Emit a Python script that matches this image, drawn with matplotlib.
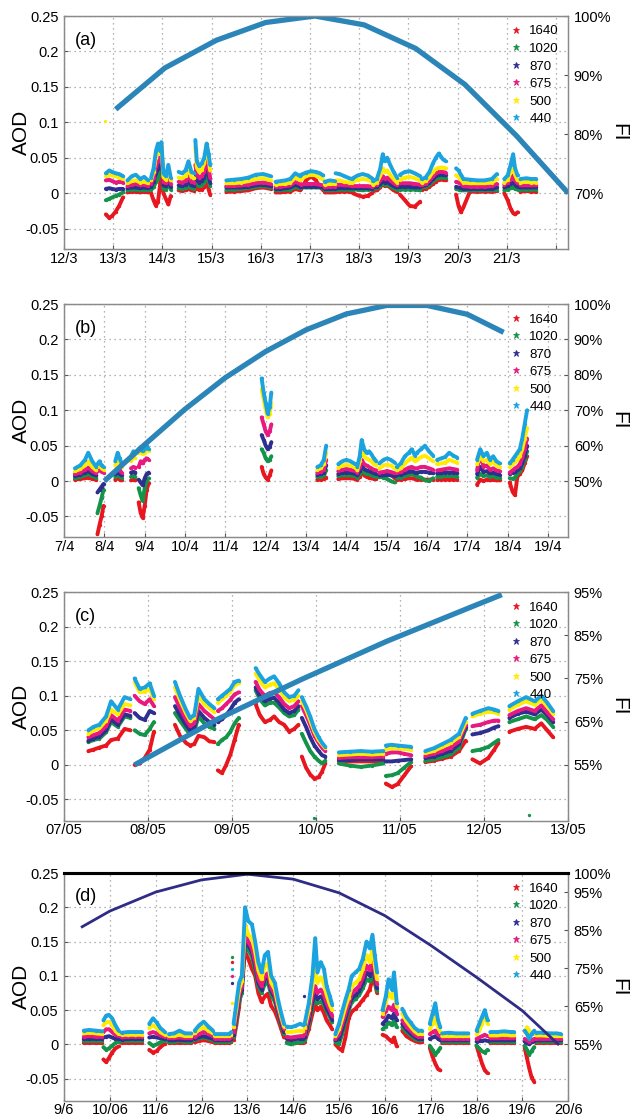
import numpy as np
import matplotlib
matplotlib.use('Agg')
import matplotlib.pyplot as plt
from matplotlib import font_manager
from matplotlib.lines import Line2D

nan = np.nan

# ---------------- wavelengths ----------------
bands = ['1640', '1020', '870', '675', '500', '440']
band_colors = ['#e8161e', '#14934a', '#2e2f8f', '#e8197f', '#ffec00', '#1aa3de']

# ---------------- (a) March ----------------
a_t = [[12.83],
       [12.85, 12.92, 12.98, 13.05, 13.12, 13.2],
       [13.29, 13.38, 13.46, 13.55, 13.63, 13.71],
       [13.77, 13.82, 13.87, 13.91, 13.95, 13.98, 14.02, 14.07, 14.12, 14.17],
       [14.33, 14.4, 14.47, 14.53, 14.59, 14.65],
       [14.67, 14.7, 14.75, 14.8, 14.85, 14.9, 14.94, 14.97],
       [15.3, 15.45, 15.6, 15.75, 15.9, 16.05, 16.2],
       [16.3, 16.4, 16.5, 16.6, 16.7, 16.8],
       [16.82, 16.92, 17.02, 17.12, 17.2, 17.27],
       [17.3, 17.4, 17.5],
       [17.52, 17.6, 17.7, 17.8, 17.85],
       [17.87, 17.97, 18.07, 18.17, 18.26],
       [18.28, 18.36, 18.43, 18.48, 18.52, 18.57, 18.63, 18.7, 18.77],
       [18.83, 18.93, 19.03, 19.13, 19.24],
       [19.27, 19.35, 19.43, 19.5, 19.56, 19.62, 19.7, 19.76],
       [19.97, 20.02, 20.07, 20.12, 20.25, 20.4, 20.55, 20.7, 20.8],
       [20.95, 21.02, 21.08, 21.13, 21.17, 21.22],
       [21.28, 21.4, 21.5, 21.6]]
a_1640 = [[nan],
          [-0.030, -0.035, -0.032, -0.026, -0.018, -0.006],
          [0.001, 0.002, 0.002, 0.001, 0.002, 0.001],
          [0.000, -0.010, -0.018, -0.012, 0.010, 0.045, 0.000, -0.008, -0.016, -0.004],
          [0.004, 0.003, 0.004, 0.006, 0.004, 0.003],
          [0.012, 0.006, 0.005, 0.005, 0.008, 0.015, 0.005, -0.002],
          [0.002, 0.002, 0.003, 0.004, 0.007, 0.008, 0.006],
          [0.001, 0.001, 0.002, 0.002, 0.006, 0.004],
          [0.006, 0.018, 0.024, 0.018, 0.009, 0.004],
          [0.001, 0.001, 0.001],
          [0.002, 0.002, 0.002, 0.002, 0.002],
          [0.000, -0.003, -0.005, -0.004, 0.000],
          [0.003, 0.004, 0.008, 0.015, 0.010, 0.011, 0.008, 0.004, 0.002],
          [-0.002, -0.010, -0.018, -0.019, -0.012],
          [0.005, 0.006, 0.009, 0.013, 0.016, 0.019, 0.019, 0.018],
          [-0.002, -0.018, -0.027, -0.020, 0.002, 0.002, 0.002, 0.002, 0.003],
          [0.000, -0.010, -0.022, -0.028, -0.030, -0.027],
          [0.002, 0.003, 0.002, 0.002]]
a_1020 = [[nan],
          [-0.010, -0.008, -0.006, -0.004, -0.002, 0.001],
          [0.004, 0.005, 0.005, 0.004, 0.005, 0.004],
          [0.005, 0.008, 0.016, 0.020, 0.030, 0.055, 0.006, 0.005, 0.014, 0.005],
          [0.007, 0.006, 0.007, 0.010, 0.007, 0.006],
          [0.022, 0.012, 0.010, 0.011, 0.015, 0.028, 0.018, 0.010],
          [0.005, 0.005, 0.006, 0.007, 0.009, 0.010, 0.008],
          [0.004, 0.004, 0.005, 0.005, 0.009, 0.007],
          [0.008, 0.008, 0.008, 0.008, 0.008, 0.007],
          [0.004, 0.004, 0.004],
          [0.005, 0.005, 0.005, 0.005, 0.005],
          [0.005, 0.005, 0.004, 0.005, 0.005],
          [0.006, 0.007, 0.010, 0.015, 0.012, 0.013, 0.010, 0.007, 0.005],
          [0.005, 0.005, 0.005, 0.005, 0.004],
          [0.008, 0.009, 0.012, 0.017, 0.020, 0.022, 0.022, 0.021],
          [0.006, 0.005, 0.004, 0.004, 0.004, 0.004, 0.004, 0.004, 0.005],
          [0.004, 0.005, 0.007, 0.008, 0.006, 0.005],
          [0.005, 0.005, 0.005, 0.005]]
a_870 = [[nan],
         [0.006, 0.007, 0.006, 0.005, 0.006, 0.006],
         [0.007, 0.008, 0.008, 0.007, 0.008, 0.007],
         [0.009, 0.016, 0.028, 0.034, 0.038, 0.060, 0.011, 0.010, 0.020, 0.009],
         [0.011, 0.010, 0.012, 0.016, 0.011, 0.010],
         [0.030, 0.018, 0.015, 0.017, 0.022, 0.038, 0.025, 0.015],
         [0.008, 0.008, 0.008, 0.009, 0.011, 0.012, 0.010],
         [0.006, 0.006, 0.007, 0.008, 0.012, 0.009],
         [0.009, 0.009, 0.009, 0.009, 0.009, 0.008],
         [0.006, 0.006, 0.006],
         [0.007, 0.007, 0.007, 0.007, 0.007],
         [0.007, 0.007, 0.007, 0.007, 0.006],
         [0.008, 0.009, 0.013, 0.018, 0.015, 0.016, 0.013, 0.010, 0.008],
         [0.009, 0.009, 0.009, 0.008, 0.008],
         [0.010, 0.011, 0.015, 0.020, 0.024, 0.026, 0.026, 0.025],
         [0.009, 0.008, 0.007, 0.006, 0.006, 0.006, 0.006, 0.006, 0.008],
         [0.008, 0.010, 0.013, 0.015, 0.012, 0.009],
         [0.008, 0.008, 0.008, 0.008]]
a_675 = [[nan],
         [0.018, 0.019, 0.017, 0.015, 0.016, 0.015],
         [0.010, 0.012, 0.013, 0.011, 0.012, 0.010],
         [0.013, 0.022, 0.038, 0.045, 0.045, 0.066, 0.016, 0.014, 0.026, 0.013],
         [0.016, 0.015, 0.017, 0.024, 0.016, 0.015],
         [0.040, 0.026, 0.022, 0.024, 0.030, 0.050, 0.035, 0.022],
         [0.010, 0.010, 0.011, 0.012, 0.014, 0.015, 0.013],
         [0.009, 0.009, 0.010, 0.011, 0.016, 0.013],
         [0.012, 0.013, 0.013, 0.013, 0.012, 0.011],
         [0.008, 0.009, 0.009],
         [0.012, 0.012, 0.011, 0.011, 0.010],
         [0.010, 0.010, 0.010, 0.010, 0.009],
         [0.010, 0.012, 0.018, 0.024, 0.020, 0.022, 0.018, 0.014, 0.011],
         [0.014, 0.014, 0.014, 0.013, 0.012],
         [0.012, 0.013, 0.018, 0.024, 0.028, 0.030, 0.030, 0.029],
         [0.016, 0.015, 0.013, 0.010, 0.009, 0.009, 0.009, 0.010, 0.013],
         [0.012, 0.015, 0.020, 0.025, 0.018, 0.014],
         [0.011, 0.011, 0.011, 0.011]]
a_500 = [[0.102],
         [0.024, 0.026, 0.025, 0.024, 0.022, 0.020],
         [0.014, 0.017, 0.018, 0.015, 0.016, 0.014],
         [0.018, 0.030, 0.052, 0.062, 0.055, 0.070, 0.023, 0.019, 0.034, 0.018],
         [0.022, 0.021, 0.024, 0.034, 0.023, 0.021],
         [0.065, 0.036, 0.030, 0.033, 0.042, 0.070, 0.050, 0.032],
         [0.014, 0.014, 0.015, 0.017, 0.020, 0.021, 0.018],
         [0.012, 0.013, 0.013, 0.015, 0.022, 0.018],
         [0.020, 0.024, 0.026, 0.025, 0.022, 0.019],
         [0.012, 0.013, 0.013],
         [0.018, 0.018, 0.016, 0.015, 0.014],
         [0.016, 0.019, 0.020, 0.019, 0.016],
         [0.012, 0.015, 0.025, 0.035, 0.030, 0.032, 0.026, 0.020, 0.015],
         [0.019, 0.022, 0.023, 0.021, 0.018],
         [0.015, 0.017, 0.023, 0.030, 0.034, 0.036, 0.036, 0.035],
         [0.025, 0.023, 0.019, 0.015, 0.014, 0.014, 0.014, 0.015, 0.020],
         [0.015, 0.019, 0.030, 0.040, 0.026, 0.018],
         [0.015, 0.016, 0.015, 0.015]]
a_440 = [[nan],
         [0.028, 0.032, 0.030, 0.028, 0.027, 0.024],
         [0.018, 0.024, 0.026, 0.020, 0.023, 0.018],
         [0.022, 0.035, 0.060, 0.070, 0.060, 0.072, 0.028, 0.024, 0.040, 0.022],
         [0.030, 0.028, 0.032, 0.045, 0.030, 0.028],
         [0.075, 0.045, 0.038, 0.042, 0.050, 0.070, 0.055, 0.040],
         [0.018, 0.019, 0.020, 0.022, 0.026, 0.027, 0.024],
         [0.016, 0.017, 0.018, 0.020, 0.028, 0.024],
         [0.026, 0.029, 0.031, 0.030, 0.028, 0.025],
         [0.016, 0.018, 0.017],
         [0.028, 0.027, 0.024, 0.021, 0.020],
         [0.021, 0.025, 0.027, 0.025, 0.021],
         [0.017, 0.020, 0.035, 0.055, 0.045, 0.050, 0.040, 0.030, 0.022],
         [0.026, 0.030, 0.031, 0.028, 0.024],
         [0.020, 0.022, 0.030, 0.042, 0.050, 0.056, 0.048, 0.045],
         [0.035, 0.032, 0.026, 0.020, 0.019, 0.018, 0.018, 0.020, 0.027],
         [0.020, 0.025, 0.040, 0.055, 0.035, 0.025],
         [0.020, 0.021, 0.020, 0.020]]
fi_a_t = [13.05, 14.05, 15.1, 16.1, 17.1, 18.1, 19.15, 20.15, 21.2, 22.25]
fi_a = [84.2, 91.2, 95.9, 98.9, 100.0, 98.5, 94.5, 88.4, 79.7, 70.0]

# ---------------- (b) April ----------------
b_t = [[7.27, 7.4, 7.52, 7.6, 7.7, 7.8],
       [7.83, 7.88, 7.93, 7.98],
       [8.27, 8.33, 8.38, 8.43],
       [8.66, 8.72, 8.77],
       [8.85, 8.9, 8.95, 9.0, 9.05, 9.1],
       [11.9, 11.95, 12.0, 12.05, 12.1, 12.14],
       [13.28, 13.36, 13.44, 13.5],
       [13.8, 13.9, 14.0, 14.1, 14.22],
       [14.27, 14.33, 14.38, 14.44, 14.5, 14.56, 14.62, 14.68, 14.74],
       [14.82, 14.92, 15.01, 15.1, 15.2],
       [15.25, 15.35, 15.45, 15.55, 15.62, 15.7, 15.75, 15.85, 15.95, 16.05, 16.15],
       [16.25, 16.35, 16.45, 16.55, 16.65, 16.75],
       [17.24, 17.32, 17.4, 17.48, 17.56, 17.64, 17.72, 17.8],
       [18.05, 18.12, 18.18, 18.24, 18.3, 18.36, 18.42, 18.48]]
b_1640 = [[0.002, 0.003, 0.004, 0.005, 0.003, 0.002],
          [-0.075, -0.062, -0.050, -0.035],
          [0.002, 0.004, 0.002, 0.001],
          [0.001, 0.002, 0.001],
          [-0.030, -0.045, -0.052, -0.035, -0.012, -0.003],
          [0.020, 0.010, 0.005, 0.002, 0.008, 0.015],
          [0.002, 0.002, 0.003, 0.005],
          [0.003, 0.004, 0.004, 0.004, 0.003],
          [0.002, 0.006, 0.012, 0.008, 0.006, 0.005, 0.004, 0.003, 0.003],
          [0.006, 0.011, 0.014, 0.010, 0.004],
          [0.002, 0.002, 0.003, 0.004, 0.004, 0.003, 0.002, 0.002, 0.002, 0.002, 0.002],
          [0.002, 0.002, 0.002, 0.002, 0.002, 0.002],
          [-0.005, 0.002, 0.000, 0.002, 0.001, 0.002, 0.001, 0.001],
          [-0.002, -0.015, -0.020, 0.006, 0.010, 0.015, 0.025, 0.035]]
b_1020 = [[0.004, 0.006, 0.008, 0.010, 0.007, 0.005],
          [-0.045, -0.035, -0.024, -0.012],
          [0.006, 0.008, 0.006, 0.005],
          [0.006, 0.007, 0.006],
          [-0.010, -0.020, -0.028, -0.010, 0.000, 0.004],
          [0.045, 0.040, 0.032, 0.028, 0.030, 0.035],
          [0.006, 0.006, 0.008, 0.015],
          [0.007, 0.008, 0.008, 0.008, 0.007],
          [0.005, 0.010, 0.015, 0.012, 0.010, 0.010, 0.008, 0.007, 0.006],
          [0.006, 0.005, 0.003, 0.000, -0.002],
          [0.005, 0.005, 0.007, 0.009, 0.010, 0.008, 0.006, 0.005, 0.001, 0.000, 0.004],
          [0.006, 0.006, 0.007, 0.007, 0.007, 0.006],
          [0.005, 0.010, 0.007, 0.008, 0.006, 0.007, 0.005, 0.005],
          [0.004, 0.003, 0.005, 0.010, 0.014, 0.020, 0.030, 0.042]]
b_870 = [[0.007, 0.009, 0.012, 0.014, 0.010, 0.008],
         [-0.016, -0.012, -0.008, -0.004],
         [0.010, 0.012, 0.010, 0.008],
         [0.012, 0.013, 0.012],
         [0.002, -0.002, -0.006, 0.004, 0.010, 0.012],
         [0.065, 0.058, 0.050, 0.045, 0.048, 0.055],
         [0.009, 0.010, 0.012, 0.022],
         [0.010, 0.012, 0.012, 0.012, 0.010],
         [0.008, 0.014, 0.022, 0.017, 0.015, 0.014, 0.013, 0.011, 0.010],
         [0.008, 0.008, 0.009, 0.008, 0.007],
         [0.009, 0.009, 0.011, 0.013, 0.014, 0.012, 0.012, 0.013, 0.013, 0.012, 0.011],
         [0.011, 0.011, 0.012, 0.012, 0.012, 0.011],
         [0.010, 0.020, 0.013, 0.014, 0.011, 0.012, 0.010, 0.009],
         [0.010, 0.012, 0.013, 0.015, 0.018, 0.025, 0.036, 0.050]]
b_675 = [[0.010, 0.012, 0.016, 0.019, 0.014, 0.011],
         [0.014, 0.016, 0.013, 0.012],
         [0.014, 0.018, 0.015, 0.012],
         [0.018, 0.020, 0.019],
         [0.020, 0.028, 0.025, 0.030, 0.032, 0.030],
         [0.090, 0.080, 0.070, 0.065, 0.070, 0.080],
         [0.012, 0.013, 0.016, 0.030],
         [0.014, 0.016, 0.017, 0.016, 0.014],
         [0.012, 0.020, 0.030, 0.024, 0.022, 0.020, 0.018, 0.016, 0.015],
         [0.012, 0.013, 0.014, 0.013, 0.011],
         [0.012, 0.013, 0.016, 0.019, 0.020, 0.018, 0.018, 0.020, 0.020, 0.018, 0.016],
         [0.015, 0.016, 0.017, 0.018, 0.017, 0.016],
         [0.015, 0.040, 0.020, 0.022, 0.016, 0.018, 0.015, 0.014],
         [0.012, 0.015, 0.018, 0.020, 0.024, 0.032, 0.045, 0.060]]
b_500 = [[0.014, 0.017, 0.022, 0.028, 0.020, 0.015],
         [0.020, 0.022, 0.018, 0.016],
         [0.022, 0.030, 0.025, 0.020],
         [0.028, 0.034, 0.032],
         [0.040, 0.045, 0.038, 0.040, 0.045, 0.042],
         [0.130, 0.115, 0.100, 0.090, 0.095, 0.110],
         [0.016, 0.018, 0.024, 0.040],
         [0.019, 0.022, 0.023, 0.022, 0.019],
         [0.015, 0.028, 0.045, 0.035, 0.032, 0.030, 0.028, 0.024, 0.022],
         [0.018, 0.022, 0.023, 0.022, 0.018],
         [0.015, 0.018, 0.025, 0.030, 0.033, 0.028, 0.030, 0.034, 0.036, 0.032, 0.028],
         [0.024, 0.025, 0.026, 0.030, 0.028, 0.026],
         [0.024, 0.035, 0.028, 0.030, 0.024, 0.027, 0.022, 0.020],
         [0.020, 0.024, 0.027, 0.030, 0.035, 0.045, 0.060, 0.075]]
b_440 = [[0.018, 0.022, 0.030, 0.040, 0.028, 0.020],
         [0.024, 0.028, 0.022, 0.020],
         [0.028, 0.040, 0.032, 0.025],
         [0.035, 0.042, 0.040],
         [0.045, 0.048, 0.042, 0.045, 0.050, 0.045],
         [0.145, 0.125, 0.110, 0.095, 0.105, 0.125],
         [0.020, 0.022, 0.030, 0.050],
         [0.024, 0.028, 0.030, 0.028, 0.024],
         [0.020, 0.035, 0.058, 0.045, 0.040, 0.042, 0.038, 0.032, 0.028],
         [0.025, 0.030, 0.032, 0.030, 0.026],
         [0.020, 0.025, 0.035, 0.040, 0.045, 0.036, 0.040, 0.045, 0.050, 0.042, 0.036],
         [0.030, 0.032, 0.034, 0.040, 0.036, 0.033],
         [0.030, 0.045, 0.035, 0.040, 0.030, 0.035, 0.028, 0.025],
         [0.025, 0.030, 0.035, 0.040, 0.045, 0.060, 0.080, 0.100]]
fi_b_t = [8.0, 9.0, 10.0, 11.0, 12.0, 13.0, 14.0, 15.0, 16.0, 17.0, 17.9]
fi_b = [50.0, 60.3, 70.3, 79.2, 86.6, 92.7, 97.2, 99.6, 99.6, 97.1, 92.0]

# ---------------- (c) May ----------------
c_t = [[7.29, 7.35, 7.42, 7.5, 7.56, 7.64, 7.72, 7.79],
       [7.84, 7.9, 7.96, 8.02, 8.07],
       [8.32, 8.38, 8.45, 8.5, 8.55, 8.6, 8.67, 8.73, 8.79],
       [8.83, 8.88, 8.93, 8.98, 9.03, 9.08],
       [9.28, 9.33, 9.39, 9.45, 9.5, 9.56, 9.62, 9.68, 9.74, 9.79],
       [9.83, 9.88, 9.93, 9.98, 10.03, 10.07, 10.11],
       [9.97],
       [10.27, 10.4, 10.53, 10.66, 10.8],
       [10.83, 10.9, 10.97, 11.05, 11.13],
       [11.3, 11.4, 11.5, 11.6, 11.7, 11.78],
       [11.86, 11.95, 12.05, 12.12, 12.17],
       [12.3, 12.4, 12.5, 12.6, 12.68, 12.75, 12.82],
       [12.53]]
c_1640 = [[0.020, 0.022, 0.025, 0.028, 0.036, 0.038, 0.052, 0.050],
          [0.000, 0.002, 0.010, 0.022, 0.048],
          [0.058, 0.042, 0.032, 0.028, 0.030, 0.042, 0.040, 0.034, 0.033],
          [-0.008, -0.012, 0.000, 0.015, 0.036, 0.058],
          [0.088, 0.072, 0.062, 0.065, 0.070, 0.062, 0.058, 0.048, 0.052, 0.058],
          [0.012, -0.004, -0.014, -0.020, -0.018, -0.010, 0.002],
          [nan],
          [0.005, 0.005, 0.005, 0.005, 0.006],
          [-0.027, -0.032, -0.028, -0.015, -0.002],
          [0.004, 0.006, 0.009, 0.012, 0.020, 0.035],
          [0.008, 0.002, 0.010, 0.022, 0.032],
          [0.048, 0.052, 0.055, 0.052, 0.060, 0.050, 0.040],
          [nan]]
c_1020 = [[0.033, 0.036, 0.038, 0.047, 0.062, 0.055, 0.070, 0.068],
          [0.050, 0.045, 0.043, 0.052, 0.062],
          [0.075, 0.064, 0.052, 0.044, 0.048, 0.070, 0.060, 0.055, 0.052],
          [0.030, 0.036, 0.040, 0.048, 0.060, 0.068],
          [0.108, 0.095, 0.086, 0.090, 0.090, 0.083, 0.075, 0.070, 0.072, 0.080],
          [0.045, 0.032, 0.020, 0.012, 0.006, 0.002, 0.006],
          [-0.077],
          [0.002, -0.001, -0.003, -0.001, 0.002],
          [-0.016, -0.015, -0.012, -0.004, 0.004],
          [0.006, 0.008, 0.011, 0.015, 0.025, 0.052],
          [0.020, 0.022, 0.026, 0.032, 0.036],
          [0.062, 0.066, 0.070, 0.066, 0.072, 0.065, 0.055],
          [-0.072]]
c_870 = [[0.035, 0.038, 0.041, 0.050, 0.066, 0.058, 0.073, 0.071],
         [0.075, 0.068, 0.065, 0.078, 0.075],
         [0.085, 0.072, 0.058, 0.050, 0.054, 0.078, 0.068, 0.062, 0.058],
         [0.062, 0.066, 0.072, 0.080, 0.090, 0.095],
         [0.112, 0.100, 0.092, 0.096, 0.097, 0.090, 0.080, 0.075, 0.078, 0.085],
         [0.068, 0.055, 0.040, 0.028, 0.020, 0.014, 0.012],
         [nan],
         [0.007, 0.007, 0.008, 0.008, 0.008],
         [0.005, 0.005, 0.006, 0.007, 0.008],
         [0.010, 0.012, 0.016, 0.020, 0.030, 0.055],
         [0.044, 0.046, 0.050, 0.054, 0.056],
         [0.068, 0.074, 0.077, 0.073, 0.080, 0.072, 0.062],
         [nan]]
c_675 = [[0.040, 0.043, 0.046, 0.056, 0.072, 0.064, 0.080, 0.078],
         [0.100, 0.092, 0.088, 0.095, 0.085],
         [0.098, 0.082, 0.066, 0.056, 0.060, 0.088, 0.078, 0.072, 0.066],
         [0.078, 0.082, 0.088, 0.094, 0.102, 0.105],
         [0.120, 0.108, 0.100, 0.104, 0.105, 0.098, 0.088, 0.082, 0.085, 0.092],
         [0.085, 0.072, 0.058, 0.042, 0.032, 0.025, 0.020],
         [nan],
         [0.010, 0.011, 0.011, 0.011, 0.012],
         [0.016, 0.018, 0.018, 0.016, 0.014],
         [0.013, 0.016, 0.020, 0.025, 0.034, 0.058],
         [0.056, 0.058, 0.062, 0.064, 0.064],
         [0.072, 0.078, 0.082, 0.078, 0.086, 0.076, 0.066],
         [nan]]
c_500 = [[0.045, 0.050, 0.053, 0.064, 0.080, 0.073, 0.088, 0.086],
         [0.120, 0.105, 0.106, 0.110, 0.095],
         [0.112, 0.094, 0.075, 0.064, 0.068, 0.100, 0.088, 0.082, 0.076],
         [0.090, 0.095, 0.100, 0.106, 0.115, 0.118],
         [0.132, 0.122, 0.112, 0.116, 0.118, 0.110, 0.098, 0.092, 0.094, 0.100],
         [0.092, 0.080, 0.064, 0.048, 0.036, 0.030, 0.024],
         [nan],
         [0.014, 0.015, 0.016, 0.015, 0.016],
         [0.023, 0.024, 0.024, 0.023, 0.022],
         [0.017, 0.020, 0.026, 0.032, 0.040, 0.062],
         [0.070, 0.074, 0.077, 0.076, 0.074],
         [0.080, 0.087, 0.092, 0.087, 0.094, 0.085, 0.074],
         [nan]]
c_440 = [[0.050, 0.055, 0.058, 0.070, 0.092, 0.080, 0.098, 0.095],
         [0.125, 0.110, 0.112, 0.118, 0.100],
         [0.120, 0.100, 0.080, 0.068, 0.072, 0.110, 0.095, 0.088, 0.082],
         [0.095, 0.100, 0.105, 0.110, 0.120, 0.122],
         [0.140, 0.130, 0.120, 0.125, 0.128, 0.118, 0.105, 0.098, 0.100, 0.108],
         [0.098, 0.085, 0.070, 0.052, 0.040, 0.032, 0.026],
         [nan],
         [0.018, 0.019, 0.020, 0.019, 0.020],
         [0.028, 0.029, 0.028, 0.027, 0.026],
         [0.020, 0.024, 0.030, 0.036, 0.045, 0.068],
         [0.074, 0.078, 0.082, 0.080, 0.078],
         [0.085, 0.092, 0.098, 0.092, 0.100, 0.090, 0.078],
         [nan]]
fi_c_t = [7.84, 8.84, 9.84, 10.84, 11.84, 12.21]
fi_c = [55.0, 65.7, 74.9, 83.6, 91.5, 94.4]

# ---------------- (d) June ----------------
d_t = [[9.43, 9.55, 9.7, 9.83],
       [9.86, 9.92, 9.98, 10.05, 10.12, 10.19],
       [10.26, 10.4, 10.55, 10.7],
       [10.86, 10.94, 11.02, 11.1, 11.2],
       [11.29, 11.4, 11.52, 11.64, 11.77],
       [11.85, 11.95, 12.05, 12.15, 12.25],
       [12.29, 12.4, 12.5, 12.6, 12.65],
       [12.66],
       [12.7, 12.76, 12.82, 12.88, 12.95, 13.02, 13.1, 13.17, 13.24, 13.31,
        13.38, 13.45, 13.52, 13.6, 13.67, 13.74, 13.8],
       [13.86, 13.95, 14.05, 14.15, 14.22],
       [14.23],
       [14.25, 14.34, 14.42, 14.48, 14.53, 14.6, 14.67, 14.73, 14.8, 14.85],
       [14.92, 15.0, 15.07, 15.14, 15.21, 15.28, 15.36, 15.44, 15.52, 15.6,
        15.67, 15.73, 15.78, 15.83],
       [15.95, 16.02, 16.08, 16.15, 16.2, 16.26],
       [16.38, 16.47, 16.56, 16.65, 16.73, 16.81],
       [16.98, 17.04, 17.1, 17.16, 17.21],
       [17.25, 17.4, 17.55, 17.7, 17.82],
       [18.0, 18.06, 18.12, 18.18, 18.24],
       [18.3, 18.45, 18.6, 18.75, 18.82],
       [19.05, 19.1, 19.15, 19.2, 19.26],
       [19.3, 19.45, 19.6, 19.75, 19.84]]
d_1640 = [[0.002, 0.002, 0.002, 0.002],
          [-0.022, -0.026, -0.020, -0.012, -0.006, -0.003],
          [0.002, 0.002, 0.002, 0.002],
          [-0.008, -0.012, -0.010, -0.004, 0.001],
          [0.002, 0.002, 0.002, 0.002, 0.002],
          [0.003, 0.005, 0.006, 0.005, 0.003],
          [0.002, 0.002, 0.002, 0.002, 0.003],
          [0.120],
          [0.006, 0.028, 0.055, 0.095, 0.135, 0.125, 0.110, 0.100, 0.075, 0.062,
           0.070, 0.074, 0.056, 0.048, 0.036, 0.022, 0.010],
          [0.003, 0.002, 0.002, 0.002, 0.002],
          [nan],
          [0.004, 0.022, 0.045, 0.058, 0.050, 0.055, 0.046, 0.035, 0.028, 0.022],
          [0.000, -0.006, -0.009, 0.010, 0.038, 0.048, 0.052, 0.058, 0.065, 0.072,
           0.080, 0.095, 0.090, 0.075],
          [0.014, 0.012, 0.008, 0.004, 0.010, -0.003],
          [0.020, 0.012, 0.008, 0.005, 0.003, 0.003],
          [-0.005, -0.018, -0.028, -0.036, -0.038],
          [0.002, 0.002, 0.002, 0.002, 0.002],
          [-0.002, -0.015, -0.028, -0.038, -0.042],
          [0.002, 0.002, 0.002, 0.002, 0.002],
          [-0.005, -0.020, -0.035, -0.048, -0.055],
          [0.002, 0.002, 0.002, 0.002, 0.002]]
d_1020 = [[0.005, 0.005, 0.005, 0.005],
          [-0.004, -0.008, -0.006, -0.002, 0.002, 0.004],
          [0.005, 0.005, 0.005, 0.005],
          [0.002, -0.002, 0.000, 0.003, 0.005],
          [0.004, 0.004, 0.005, 0.004, 0.004],
          [0.006, 0.009, 0.010, 0.008, 0.006],
          [0.004, 0.004, 0.004, 0.004, 0.005],
          [0.128],
          [0.010, 0.035, 0.062, 0.075, 0.145, 0.138, 0.128, 0.108, 0.085, 0.075,
           0.088, 0.090, 0.072, 0.062, 0.045, 0.028, 0.015],
          [0.002, 0.000, 0.002, 0.003, 0.004],
          [nan],
          [0.007, 0.030, 0.055, 0.068, 0.060, 0.062, 0.058, 0.048, 0.040, 0.032],
          [0.004, 0.000, 0.015, 0.032, 0.050, 0.062, 0.066, 0.072, 0.082, 0.095,
           0.092, 0.105, 0.092, 0.078],
          [0.022, 0.026, 0.032, 0.028, 0.035, 0.025],
          [0.025, 0.018, 0.013, 0.008, 0.006, 0.006],
          [-0.002, -0.008, -0.015, -0.010, -0.005],
          [0.004, 0.004, 0.004, 0.004, 0.004],
          [-0.002, -0.006, -0.010, -0.012, -0.008],
          [0.004, 0.004, 0.004, 0.004, 0.004],
          [-0.002, -0.008, -0.015, -0.010, -0.004],
          [0.004, 0.004, 0.004, 0.004, 0.004]]
d_870 = [[0.008, 0.008, 0.008, 0.008],
         [0.010, 0.011, 0.012, 0.010, 0.008, 0.008],
         [0.007, 0.008, 0.008, 0.008],
         [0.010, 0.011, 0.010, 0.009, 0.008],
         [0.006, 0.006, 0.007, 0.006, 0.006],
         [0.008, 0.011, 0.012, 0.010, 0.008],
         [0.006, 0.006, 0.006, 0.006, 0.008],
         [0.090],
         [0.014, 0.040, 0.068, 0.080, 0.150, 0.145, 0.135, 0.115, 0.090, 0.080,
          0.095, 0.098, 0.078, 0.068, 0.048, 0.032, 0.018],
         [0.008, 0.007, 0.008, 0.008, 0.008],
         [0.071],
         [0.010, 0.035, 0.062, 0.075, 0.066, 0.070, 0.064, 0.052, 0.044, 0.036],
         [0.006, 0.008, 0.022, 0.038, 0.055, 0.068, 0.072, 0.078, 0.090, 0.105,
          0.100, 0.115, 0.098, 0.082],
         [0.030, 0.035, 0.042, 0.038, 0.045, 0.035],
         [0.030, 0.022, 0.016, 0.011, 0.008, 0.008],
         [0.008, 0.010, 0.012, 0.008, 0.006],
         [0.006, 0.006, 0.006, 0.006, 0.006],
         [0.004, 0.005, 0.005, 0.006, 0.005],
         [0.006, 0.006, 0.006, 0.006, 0.006],
         [0.004, 0.002, 0.000, 0.003, 0.005],
         [0.006, 0.006, 0.006, 0.006, 0.006]]
d_675 = [[0.011, 0.012, 0.011, 0.011],
         [0.018, 0.022, 0.022, 0.018, 0.014, 0.012],
         [0.010, 0.011, 0.011, 0.011],
         [0.016, 0.018, 0.016, 0.013, 0.011],
         [0.009, 0.009, 0.010, 0.009, 0.009],
         [0.011, 0.015, 0.018, 0.015, 0.012],
         [0.008, 0.008, 0.008, 0.008, 0.010],
         [0.100],
         [0.018, 0.045, 0.072, 0.085, 0.160, 0.150, 0.140, 0.120, 0.095, 0.085,
          0.100, 0.104, 0.082, 0.072, 0.052, 0.035, 0.022],
         [0.011, 0.010, 0.011, 0.012, 0.012],
         [nan],
         [0.015, 0.042, 0.072, 0.085, 0.075, 0.080, 0.072, 0.060, 0.050, 0.042],
         [0.008, 0.015, 0.030, 0.045, 0.060, 0.075, 0.080, 0.085, 0.098, 0.115,
          0.108, 0.125, 0.105, 0.088],
         [0.040, 0.048, 0.055, 0.050, 0.058, 0.045],
         [0.035, 0.026, 0.020, 0.014, 0.011, 0.011],
         [0.015, 0.018, 0.020, 0.014, 0.012],
         [0.008, 0.008, 0.008, 0.008, 0.008],
         [0.008, 0.010, 0.012, 0.014, 0.012],
         [0.009, 0.009, 0.009, 0.009, 0.009],
         [0.008, 0.006, 0.004, 0.006, 0.008],
         [0.008, 0.008, 0.008, 0.008, 0.008]]
d_500 = [[0.016, 0.017, 0.016, 0.015],
         [0.028, 0.032, 0.033, 0.028, 0.020, 0.015],
         [0.014, 0.014, 0.014, 0.014],
         [0.024, 0.028, 0.024, 0.018, 0.014],
         [0.012, 0.012, 0.014, 0.012, 0.012],
         [0.016, 0.022, 0.025, 0.020, 0.016],
         [0.012, 0.012, 0.012, 0.012, 0.014],
         [0.060],
         [0.025, 0.052, 0.080, 0.092, 0.175, 0.160, 0.155, 0.135, 0.108, 0.095,
          0.115, 0.118, 0.090, 0.080, 0.058, 0.040, 0.026],
         [0.018, 0.018, 0.019, 0.020, 0.019],
         [nan],
         [0.024, 0.050, 0.085, 0.110, 0.090, 0.098, 0.088, 0.072, 0.058, 0.050],
         [0.012, 0.022, 0.038, 0.055, 0.068, 0.085, 0.090, 0.095, 0.110, 0.130,
          0.120, 0.140, 0.115, 0.095],
         [0.045, 0.060, 0.075, 0.068, 0.080, 0.055],
         [0.045, 0.034, 0.026, 0.019, 0.015, 0.015],
         [0.022, 0.030, 0.040, 0.025, 0.018],
         [0.012, 0.012, 0.012, 0.012, 0.012],
         [0.015, 0.020, 0.030, 0.045, 0.030],
         [0.013, 0.013, 0.014, 0.013, 0.013],
         [0.018, 0.025, 0.020, 0.015, 0.016],
         [0.013, 0.013, 0.012, 0.012, 0.012]]
d_440 = [[0.020, 0.021, 0.020, 0.019],
         [0.035, 0.042, 0.043, 0.038, 0.028, 0.020],
         [0.017, 0.018, 0.018, 0.018],
         [0.030, 0.038, 0.032, 0.024, 0.018],
         [0.015, 0.016, 0.020, 0.016, 0.016],
         [0.020, 0.028, 0.033, 0.026, 0.020],
         [0.015, 0.015, 0.015, 0.015, 0.018],
         [0.110],
         [0.030, 0.060, 0.090, 0.100, 0.200, 0.180, 0.175, 0.150, 0.120, 0.105,
          0.130, 0.135, 0.100, 0.090, 0.065, 0.045, 0.030],
         [0.026, 0.025, 0.027, 0.030, 0.028],
         [nan],
         [0.030, 0.060, 0.100, 0.155, 0.105, 0.120, 0.110, 0.085, 0.070, 0.058],
         [0.015, 0.030, 0.048, 0.065, 0.080, 0.100, 0.105, 0.110, 0.125, 0.150,
          0.140, 0.160, 0.130, 0.105],
         [0.050, 0.070, 0.095, 0.080, 0.105, 0.060],
         [0.052, 0.040, 0.032, 0.024, 0.020, 0.020],
         [0.030, 0.045, 0.060, 0.035, 0.025],
         [0.016, 0.017, 0.016, 0.016, 0.016],
         [0.020, 0.030, 0.040, 0.050, 0.035],
         [0.018, 0.018, 0.019, 0.018, 0.018],
         [0.020, 0.015, 0.008, 0.015, 0.020],
         [0.017, 0.017, 0.016, 0.016, 0.015]]
fi_d_t = [9.37, 10.0, 11.0, 12.0, 13.0, 14.0, 15.0, 16.0, 17.0, 18.0, 19.0, 19.8]
fi_d = [85.7, 90.0, 95.0, 98.2, 99.7, 98.4, 94.8, 88.8, 81.0, 72.6, 63.8, 54.8]

# ---------------- axis labelling ----------------
a_days = list(range(12, 23))
a_labels = ['%d/3' % d for d in range(12, 22)] + ['']
b_days = list(range(7, 20))
b_labels = ['%d/4' % d for d in b_days]
c_days = list(range(7, 14))
c_labels = ['%02d/05' % d for d in c_days]
d_days = list(range(9, 21))
d_labels = ['%d/6' % d for d in d_days]
d_labels[1] = '10/06'

aod_ticks = [-0.05, 0, 0.05, 0.1, 0.15, 0.2, 0.25]
aod_labels = ['-0.05', '0', '0.05', '0.1', '0.15', '0.2', '0.25']

names = {f.name for f in font_manager.fontManager.ttflist}
main_font = 'Liberation Sans Narrow' if 'Liberation Sans Narrow' in names else 'Liberation Sans'
plt.rcParams['font.family'] = [main_font, 'DejaVu Sans']


def joined(segs):
    out = []
    for s in segs:
        out.extend(s)
        out.append(nan)
    return np.array(out, dtype=float)


panels = [
    dict(tag='(a)', t=a_t, v=[a_1640, a_1020, a_870, a_675, a_500, a_440],
         fi_t=fi_a_t, fi=fi_a, xlim=(12, 22.25), days=a_days, labels=a_labels,
         ylo=-0.0788, fi_lim=(60.54, 100), fi_ticks=[70, 80, 90, 100],
         fi_color='#2b85b8', fi_lw=3.8, rect=[0.1008, 0.7775, 0.794, 0.2082]),
    dict(tag='(b)', t=b_t, v=[b_1640, b_1020, b_870, b_675, b_500, b_440],
         fi_t=fi_b_t, fi=fi_b, xlim=(7, 19.5), days=b_days, labels=b_labels,
         ylo=-0.079, fi_lim=(34.2, 100), fi_ticks=[50, 60, 70, 80, 90, 100],
         fi_color='#2b85b8', fi_lw=3.8, rect=[0.1008, 0.5201, 0.794, 0.2082]),
    dict(tag='(c)', t=c_t, v=[c_1640, c_1020, c_870, c_675, c_500, c_440],
         fi_t=fi_c_t, fi=fi_c, xlim=(7, 13), days=c_days, labels=c_labels,
         ylo=-0.0806, fi_lim=(42.1, 95), fi_ticks=[55, 65, 75, 85, 95],
         fi_color='#2b85b8', fi_lw=3.8, rect=[0.1008, 0.2667, 0.794, 0.2042]),
    dict(tag='(d)', t=d_t, v=[d_1640, d_1020, d_870, d_675, d_500, d_440],
         fi_t=fi_d_t, fi=fi_d, xlim=(9, 20), days=d_days, labels=d_labels,
         ylo=-0.082, fi_lim=(40.2, 100), fi_ticks=[55, 65, 75, 85, 95, 100],
         fi_color='#2e2c85', fi_lw=2.0, rect=[0.1008, 0.0165, 0.794, 0.2033]),
]

fig = plt.figure(figsize=(6.35, 11.19), dpi=100)

for p in panels:
    ax = fig.add_axes(p['rect'])
    t = joined(p['t'])
    for name, col, segs in zip(bands, band_colors, p['v']):
        ax.plot(t, joined(segs), '-', color=col, lw=2.8, marker='o', ms=2.4,
                mew=0, solid_joinstyle='round', solid_capstyle='round')
    ax.set_xlim(*p['xlim'])
    ax.set_ylim(p['ylo'], 0.25)
    ax.set_xticks(p['days'])
    ax.set_xticklabels(p['labels'], fontsize=10.5)
    ax.set_yticks(aod_ticks)
    ax.set_yticklabels(aod_labels, fontsize=10.5)
    ax.grid(True, color='#9a9a9a', ls=(0, (1, 3)), lw=0.9)
    ax.tick_params(direction='in', length=3, color='#555555', pad=4)
    ax.tick_params(axis='x', pad=2)
    for s in ax.spines.values():
        s.set_color('#8a8a8a')
        s.set_linewidth(0.9)
    ax.set_ylabel('AOD', fontsize=15)
    ax.yaxis.set_label_coords(-0.066, 0.5)
    ax.text(0.022, 0.895, p['tag'], transform=ax.transAxes, fontsize=13,
            va='center', ha='left')

    handles = [Line2D([], [], ls='', marker='*', ms=5, color=c, mew=0.6)
               for c in band_colors]
    ax.legend(handles, bands, loc='upper right', frameon=False, fontsize=9.5,
              handlelength=1.0, handletextpad=0.5, labelspacing=0.4,
              borderaxespad=0.3, bbox_to_anchor=(1.0, 1.0))

    ax2 = ax.twinx()
    ax2.plot(p['fi_t'], p['fi'], '-', color=p['fi_color'], lw=p['fi_lw'],
             solid_joinstyle='miter', solid_capstyle='butt')
    ax2.set_ylim(*p['fi_lim'])
    ax2.set_yticks(p['fi_ticks'])
    ax2.set_yticklabels(['%d%%' % v for v in p['fi_ticks']], fontsize=10.5)
    ax2.tick_params(direction='in', length=3, color='#555555', pad=4)
    for s in ax2.spines.values():
        s.set_color('#8a8a8a')
        s.set_linewidth(0.9)
    ax2.set_ylabel('FI', fontsize=15, rotation=270, va='bottom')
    ax2.yaxis.set_label_coords(1.082, 0.5)

    if p['tag'] == '(d)':
        ax.spines['top'].set_color('black')
        ax.spines['top'].set_linewidth(2.2)
        ax2.spines['top'].set_color('black')
        ax2.spines['top'].set_linewidth(2.2)

fig.savefig('out.png', dpi=100)
